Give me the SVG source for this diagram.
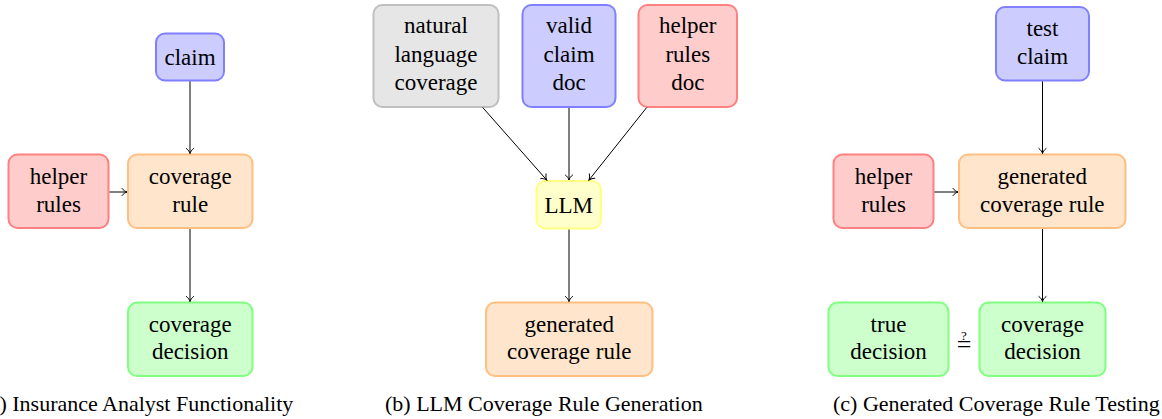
<svg xmlns="http://www.w3.org/2000/svg" width="1162" height="419" viewBox="0 0 1162 419">
<style>
  text { font-family: "Liberation Serif", "Times New Roman", serif; fill: #000; }
  .t { font-size: 23px; text-anchor: middle; }
  .cap { font-size: 22px; }
  rect { stroke-width: 2; }
  .blue { fill: #ccccff; stroke: #8080ff; }
  .red { fill: #ffcccc; stroke: #ff8080; }
  .orange { fill: #ffe5cc; stroke: #ffbf80; }
  .green { fill: #ccffcc; stroke: #80ff80; }
  .gray { fill: #e6e6e6; stroke: #bfbfbf; }
  .yellow { fill: #ffffcc; stroke: #ffff80; }
  .edge { stroke: #000; stroke-width: 1; fill: none; marker-end: url(#arr); }
</style>
<defs>
  <marker id="arr" markerUnits="userSpaceOnUse" viewBox="-7 -5 8 10" markerWidth="8" markerHeight="10" refX="0" refY="0" orient="auto">
    <path d="M-5,-3.6 C-3.6,-1.6 -1.6,-0.5 0,0 C-1.6,0.5 -3.6,1.6 -5,3.6" fill="none" stroke="#000" stroke-width="1" stroke-linecap="round"/>
  </marker>
</defs>

<!-- Panel (a) -->
<g id="a-claim"><rect class="blue" x="156" y="33.5" width="68" height="47" rx="9"/><text class="t" x="190" y="64.5">claim</text></g>
<g id="a-helper"><rect class="red" x="8.5" y="154.5" width="100" height="73.5" rx="9"/><text class="t" x="58.5" y="183.5">helper</text><text class="t" x="58.5" y="211.5">rules</text></g>
<g id="a-rule"><rect class="orange" x="128" y="154.5" width="124.5" height="73.5" rx="9"/><text class="t" x="190.25" y="183.5">coverage</text><text class="t" x="190.25" y="211.5">rule</text></g>
<g id="a-decision"><rect class="green" x="128" y="302.5" width="124.5" height="73.5" rx="9"/><text class="t" x="190.25" y="331.5">coverage</text><text class="t" x="190.25" y="359">decision</text></g>

<!-- Panel (b) -->
<g id="b-natural"><rect class="gray" x="373.5" y="5" width="125" height="102" rx="9"/><text class="t" x="436" y="33">natural</text><text class="t" x="436" y="61.5">language</text><text class="t" x="436" y="90">coverage</text></g>
<g id="b-valid"><rect class="blue" x="522.5" y="5" width="93" height="102" rx="9"/><text class="t" x="569" y="33">valid</text><text class="t" x="569" y="61.5">claim</text><text class="t" x="569" y="90">doc</text></g>
<g id="b-helper"><rect class="red" x="638.5" y="5" width="98.5" height="102" rx="9"/><text class="t" x="687.75" y="33">helper</text><text class="t" x="687.75" y="61.5">rules</text><text class="t" x="687.75" y="90">doc</text></g>
<g id="b-llm"><rect class="yellow" x="536.5" y="181" width="64.5" height="47.5" rx="9"/><text class="t" x="568.75" y="213">LLM</text></g>
<g id="b-generated"><rect class="orange" x="486" y="302.5" width="166.5" height="73.5" rx="9"/><text class="t" x="569.25" y="331.5">generated</text><text class="t" x="569.25" y="359">coverage rule</text></g>

<!-- Panel (c) -->
<g id="c-claim"><rect class="blue" x="996" y="7" width="93" height="73.5" rx="9"/><text class="t" x="1042.5" y="35.5">test</text><text class="t" x="1042.5" y="63.5">claim</text></g>
<g id="c-helper"><rect class="red" x="833.5" y="154.5" width="100" height="73.5" rx="9"/><text class="t" x="883.5" y="183.5">helper</text><text class="t" x="883.5" y="211.5">rules</text></g>
<g id="c-generated"><rect class="orange" x="959" y="154.5" width="166.5" height="73.5" rx="9"/><text class="t" x="1042.25" y="183.5">generated</text><text class="t" x="1042.25" y="211.5">coverage rule</text></g>
<g id="c-true"><rect class="green" x="828.5" y="302.5" width="120" height="73.5" rx="9"/><text class="t" x="888.5" y="331.5">true</text><text class="t" x="888.5" y="359">decision</text></g>
<g id="c-decision"><rect class="green" x="979.5" y="302.5" width="126" height="73.5" rx="9"/><text class="t" x="1042.5" y="331.5">coverage</text><text class="t" x="1042.5" y="359">decision</text></g>
<g id="c-compare"><text x="964" y="339.5" style="font-size:13px;text-anchor:middle">?</text><text x="964" y="353" style="font-size:26px;text-anchor:middle">=</text></g>

<!-- Connectors -->
<g id="connectors">
  <line class="edge" x1="190" y1="81.5" x2="190" y2="153.5"/>
  <line class="edge" x1="190" y1="229" x2="190" y2="301.5"/>
  <line class="edge" x1="109.5" y1="192" x2="127" y2="192"/>
  <line class="edge" x1="482.7" y1="107.5" x2="546.7" y2="180"/>
  <line class="edge" x1="569" y1="108" x2="569" y2="180"/>
  <line class="edge" x1="646.7" y1="107.5" x2="589" y2="180"/>
  <line class="edge" x1="569" y1="229.5" x2="569" y2="301.5"/>
  <line class="edge" x1="1042.5" y1="81.5" x2="1042.5" y2="153.5"/>
  <line class="edge" x1="934.5" y1="192" x2="958" y2="192"/>
  <line class="edge" x1="1042.5" y1="229" x2="1042.5" y2="301.5"/>
</g>

<!-- Captions -->
<text class="cap" x="293.3" y="411" text-anchor="end">(a) Insurance Analyst Functionality</text>
<text class="cap" x="385" y="411">(b) LLM Coverage Rule Generation</text>
<text class="cap" x="833" y="411">(c) Generated Coverage Rule Testing</text>
</svg>
